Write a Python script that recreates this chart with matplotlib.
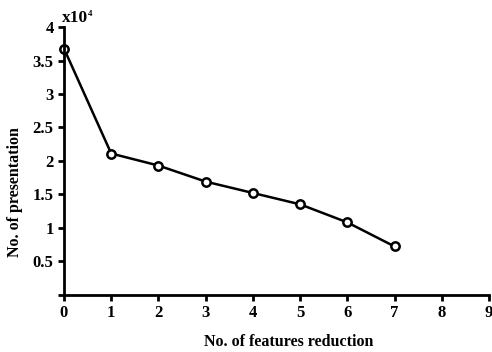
import matplotlib
matplotlib.use("Agg")
import matplotlib.pyplot as plt

x_vals = [0, 1, 2, 3, 4, 5, 6, 7]
y_vals = [3.68, 2.11, 1.93, 1.69, 1.52, 1.35, 1.08, 0.72]  # x10^4
x_ticks = [0, 1, 2, 3, 4, 5, 6, 7, 8, 9]
y_ticks = [0, 0.5, 1, 1.5, 2, 2.5, 3, 3.5, 4]
y_tick_labels = ["", "0.5", "1", "1.5", "2", "2.5", "3", "3.5", "4"]

plt.rcParams['font.family'] = ['Liberation Serif', 'DejaVu Serif']
plt.rcParams['font.weight'] = 'bold'

fig = plt.figure(figsize=(4.92, 3.52), dpi=100)
ax = fig.add_axes([0.130, 0.163, 0.864, 0.760])
ax.plot(x_vals, y_vals, color='black', linewidth=1.8, marker='o', markersize=6,
        markerfacecolor='white', markeredgecolor='black', markeredgewidth=1.8, clip_on=False)
ax.set_xlim(0, 9)
ax.set_ylim(0, 4)
ax.set_xticks(x_ticks)
ax.set_xticklabels([str(t) for t in x_ticks], fontsize=12, fontweight='bold')
ax.set_yticks(y_ticks)
ax.set_yticklabels(y_tick_labels, fontsize=12, fontweight='bold')
for s in ['top', 'right']:
    ax.spines[s].set_visible(False)
for s in ['left', 'bottom']:
    ax.spines[s].set_linewidth(2)
ax.tick_params(axis='both', direction='out', length=4.5, width=2, pad=3)
fig.text(289 / 492, 1 - 342 / 352, 'No. of features reduction', fontsize=11.5,
         fontweight='bold', ha='center', va='center')
fig.text(15 / 492, 1 - 192 / 352, 'No. of presentation', fontsize=11.5,
         fontweight='bold', ha='center', va='center', rotation=90)
fig.text(62 / 492, 1 - 22 / 352, 'x10', fontsize=12.5, fontweight='bold',
         ha='left', va='baseline')
fig.text(87.5 / 492, 1 - 16 / 352, '4', fontsize=6.5, fontweight='bold',
         ha='left', va='baseline')
fig.savefig('out.png', dpi=100)
